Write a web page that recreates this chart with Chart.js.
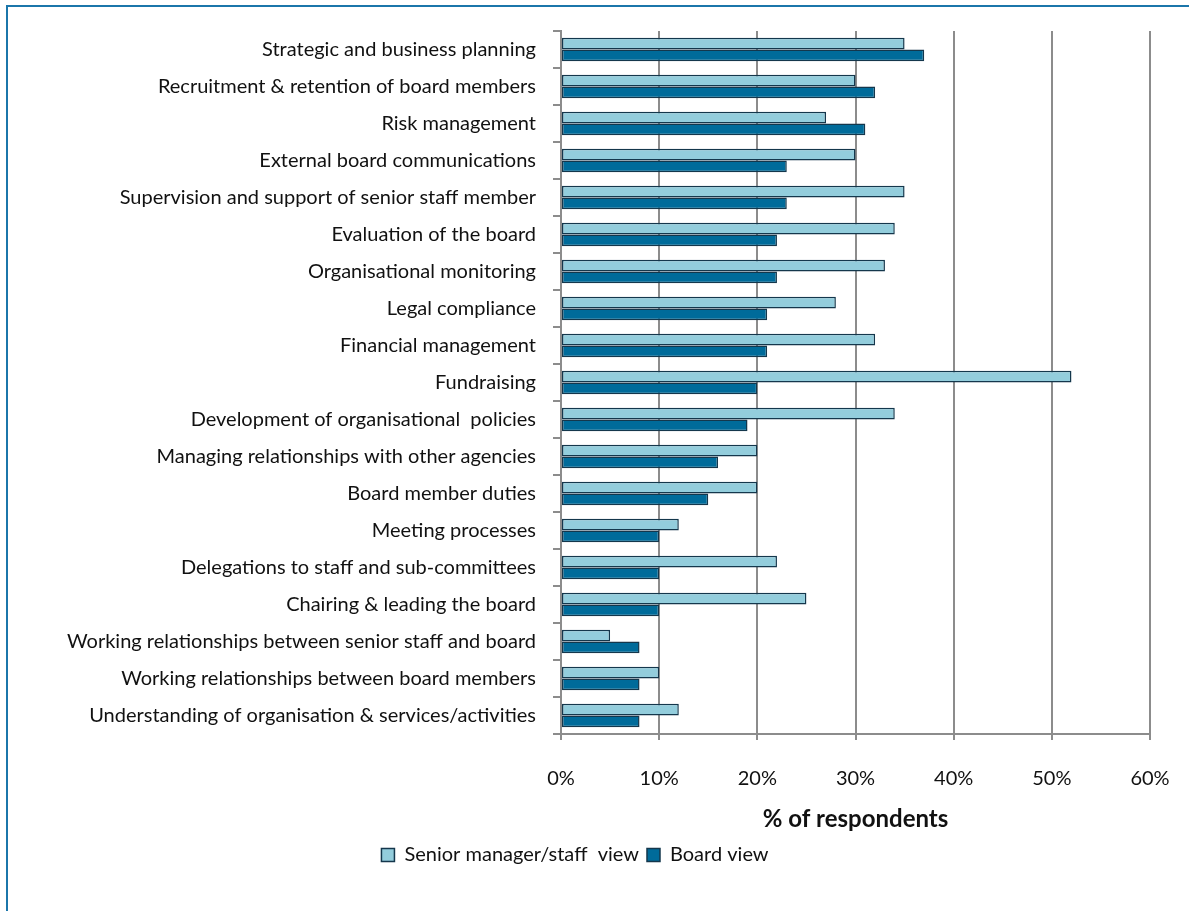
<!DOCTYPE html>
<html>
<head>
<meta charset="utf-8">
<script src="https://cdn.jsdelivr.net/npm/chart.js@4/dist/chart.umd.min.js"></script>
<style>
  html, body { margin: 0; padding: 0; background: #fff; }
  #frame {
    position: absolute; left: 6px; top: 5px; right: 0; bottom: 0;
    border-left: 2px solid #1b76aa; border-top: 2px solid #1b76aa;
  }
  #wrap { position: absolute; left: 0; top: 0; width: 1189px; height: 911px; }
</style>
</head>
<body>
<div id="frame"></div>
<div id="wrap"><canvas id="barChart" width="1189" height="911"></canvas></div>
<script>
var categories = [
    'Strategic and business planning',
    'Recruitment & retention of board members',
    'Risk management',
    'External board communications',
    'Supervision and support of senior staff member',
    'Evaluation of the board',
    'Organisational monitoring',
    'Legal compliance',
    'Financial management',
    'Fundraising',
    'Development of organisational  policies',
    'Managing relationships with other agencies',
    'Board member duties',
    'Meeting processes',
    'Delegations to staff and sub-committees',
    'Chairing & leading the board',
    'Working relationships between senior staff and board',
    'Working relationships between board members',
    'Understanding of organisation & services/activities'
];
var staffView = [35, 30, 27, 30, 35, 34, 33, 28, 32, 52, 34, 20, 20, 12, 22, 25, 5, 10, 12];
var boardView = [37, 32, 31, 23, 23, 22, 22, 21, 21, 20, 19, 16, 15, 10, 10, 10, 8, 8, 8];
var seriesNames = ['Senior manager/staff  view', 'Board view'];
var xTicks = [0, 10, 20, 30, 40, 50, 60];

var FONT = 'Lato, "Open Sans", sans-serif';
var GRID = '#8c8c8c';

var ctx = document.getElementById('barChart').getContext('2d');
var barChart = new Chart(ctx, {
    type: 'bar',
    data: {
        labels: categories,
        datasets: [{
            label: seriesNames[0],
            data: staffView,
            backgroundColor: '#93cddc',
            borderColor: '#14374c',
            borderWidth: 1.5,
            borderSkipped: false
        }, {
            label: seriesNames[1],
            data: boardView,
            backgroundColor: '#006b9a',
            borderColor: '#14374c',
            borderWidth: 1.5,
            borderSkipped: false
        }]
    },
    options: {
        indexAxis: 'y',
        responsive: false,
        animation: false,
        categoryPercentage: 0.63,
        barPercentage: 1,
        layout: {
            padding: { left: 0, right: 39, top: 31, bottom: 36 }
        },
        scales: {
            x: {
                min: 0,
                max: 60,
                afterBuildTicks: function(scale) {
                    scale.ticks = xTicks.map(function(v) { return { value: v }; });
                },
                afterFit: function(scale) {
                    scale.height = 103;
                    scale.paddingRight = 0;
                },
                grid: { color: GRID, lineWidth: 2, tickLength: 6 },
                border: { color: GRID, width: 2 },
                ticks: {
                    padding: 27,
                    color: '#111',
                    font: { family: FONT, size: 20 },
                    callback: function(v) { return v + '%'; }
                },
                title: {
                    display: true,
                    text: '% of respondents',
                    color: '#111',
                    font: { family: FONT, size: 24, weight: 'bold' },
                    padding: { top: 0, bottom: 3 }
                }
            },
            y: {
                afterFit: function(scale) { scale.width = 561; },
                grid: { offset: true, drawOnChartArea: false, color: GRID, lineWidth: 2, tickLength: 8 },
                border: { color: GRID, width: 2 },
                ticks: {
                    padding: 17,
                    color: '#111',
                    autoSkip: false,
                    font: { family: FONT, size: 20 }
                }
            }
        },
        plugins: {
            legend: {
                position: 'bottom',
                labels: {
                    boxWidth: 13,
                    boxHeight: 13,
                    padding: 8,
                    color: '#111',
                    font: { family: FONT, size: 20 }
                }
            },
            tooltip: { enabled: false }
        }
    }
});
</script>
</body>
</html>
